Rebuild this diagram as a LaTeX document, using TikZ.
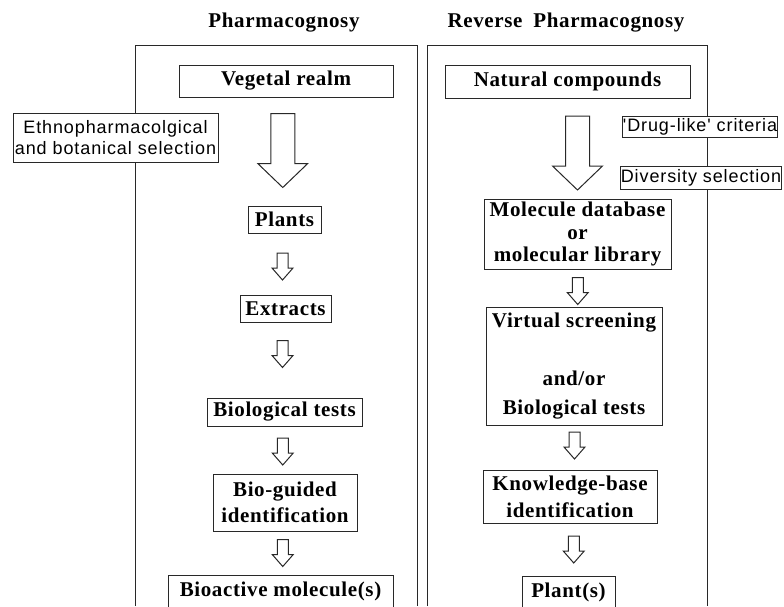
\documentclass[tikz,border=0pt]{standalone}
\usepackage{fontspec}
\usepackage{xcolor}
\usepackage{tikz}
\usetikzlibrary{positioning,calc}
\newfontfamily\boxfont{Liberation Serif}[LetterSpace=3]
\newfontfamily\notefont{Liberation Sans}[LetterSpace=5]
\definecolor{linegray}{RGB}{40,40,40}

\begin{document}
\begin{tikzpicture}[
    x=1pt, y=-1pt,
    panel/.style={draw=linegray, line width=1pt},
    stepbox/.style={draw=linegray, line width=1pt, fill=white, inner sep=0pt, align=center, font=\boxfont\bfseries\fontsize{21}{24}\selectfont},
    note/.style={draw=linegray, line width=1pt, fill=white, inner sep=0pt, align=center, font=\notefont\fontsize{18}{21}\selectfont},
    title/.style={font=\boxfont\bfseries\fontsize{21}{24}\selectfont},
    arrow shaft/.store in=\arrshaft, arrow head/.store in=\arrhead,
    arrow length/.store in=\arrlen, head length/.store in=\arrheadlen,
    arrow dx/.store in=\arrdx, arrow dy/.store in=\arrdy,
    arrow dx=0pt, arrow dy=0pt,
    bigarrow/.style={arrow shaft=24pt, arrow head=50pt, arrow length=74pt, head length=24pt},
    smallarrow/.style={arrow shaft=11pt, arrow head=21pt, arrow length=27pt, head length=12pt},
    hollow/.style={draw=linegray, line width=1pt, fill=white, line join=miter,
      to path={let \p1=($(\tikztostart)!.5!(\tikztotarget)$) in
        ({\x1+(\arrdx)-\arrshaft/2}, {\y1-(\arrdy)+\arrlen/2})
        -- ({\x1+(\arrdx)+\arrshaft/2}, {\y1-(\arrdy)+\arrlen/2})
        -- ({\x1+(\arrdx)+\arrshaft/2}, {\y1-(\arrdy)-\arrlen/2+\arrheadlen})
        -- ({\x1+(\arrdx)+\arrhead/2}, {\y1-(\arrdy)-\arrlen/2+\arrheadlen})
        -- ({\x1+(\arrdx)}, {\y1-(\arrdy)-\arrlen/2})
        -- ({\x1+(\arrdx)-\arrhead/2}, {\y1-(\arrdy)-\arrlen/2+\arrheadlen})
        -- ({\x1+(\arrdx)-\arrshaft/2}, {\y1-(\arrdy)-\arrlen/2+\arrheadlen})
        -- cycle}}
]
\path[fill=white] (0,0) rectangle (784,606);
\useasboundingbox (0,0) rectangle (784,606);

% Panels, open at the bottom
\draw[panel] (135,606) |- (417,45) -- (417,606);
\draw[panel] (427,606) |- (707,45) -- (707,606);

% Titles
\node[title] (ph) at (284,23) {Pharmacognosy};
\node[title] (rph) at (566,23) {Reverse\hspace{5pt} Pharmacognosy};

% Pharmacognosy column
\node[stepbox, minimum width=214pt, minimum height=32pt] (veg) at (286,81) {Vegetal realm};
\node[stepbox, minimum width=73pt, minimum height=27pt, below=108pt of veg, xshift=-1.5pt] (plants) {Plants};
\node[stepbox, minimum width=91pt, minimum height=27pt, below=61pt of plants, xshift=1pt] (ext) {Extracts};
\node[stepbox, minimum width=155pt, minimum height=28pt, below=75pt of ext, xshift=-1pt] (biot) {Biological tests};
\node[stepbox, minimum width=144pt, minimum height=57pt, below=47pt of biot, xshift=0.5pt,
      font=\boxfont\bfseries\fontsize{21}{26}\selectfont] (biog) {Bio-guided\\identification};
\node[stepbox, minimum width=225pt, minimum height=33pt, below=43pt of biog, xshift=-4.5pt] (bioa) {Bioactive molecule(s)};

% Reverse pharmacognosy column
\node[stepbox, minimum width=245pt, minimum height=33pt] (nat) at (567.5,81.5) {Natural compounds};
\node[stepbox, minimum width=187pt, minimum height=70pt, below=100pt of nat, xshift=10pt,
      font=\boxfont\bfseries\fontsize{21}{22.5}\selectfont] (mol) {Molecule database\\or\\molecular library};
\node[stepbox, minimum width=176pt, minimum height=118pt, below=37pt of mol, xshift=-3.5pt,
      font=\boxfont\bfseries\fontsize{21}{29}\selectfont] (virt) {Virtual screening\\[29pt]and/or\\Biological tests};
\node[stepbox, minimum width=174pt, minimum height=53pt, below=44pt of virt, xshift=-4pt,
      font=\boxfont\bfseries\fontsize{21}{27}\selectfont] (know) {Knowledge-base\\identification};
\node[stepbox, minimum width=93pt, minimum height=33pt, below=52pt of know, xshift=-1.5pt] (plant) {Plant(s)};

% Selection notes
\node[note, minimum width=205pt, minimum height=49pt] (ethno) at (115.5,137.5) {Ethnopharmacolgical\\and botanical selection};
\node[note, minimum width=150pt, minimum height=21pt] (drug) at (700,126.5) {'Drug-like' criteria};
\node[note, minimum width=158pt, minimum height=23pt] (div) at (701,177.5) {Diversity selection};

% Hollow arrows
\draw[hollow, bigarrow, arrow dx=-2.5pt, arrow dy=-1pt] (veg.south) to (plants.north);
\draw[hollow, smallarrow, arrow dx=-2.5pt, arrow dy=2.5pt] (plants.south) to (ext.north);
\draw[hollow, smallarrow, arrow dx=-2.5pt, arrow dy=-6pt] (ext.south) to (biot.north);
\draw[hollow, smallarrow, arrow dx=-2pt, arrow dy=1.5pt] (biot.south) to (biog.north);
\draw[hollow, smallarrow, arrow dx=0pt] (biog.south) to (bioa.north);

\draw[hollow, bigarrow, arrow dx=5pt, arrow dy=4.5pt] (nat.south) to (mol.north);
\draw[hollow, smallarrow, arrow dx=2pt, arrow dy=3pt] (mol.south) to (virt.north);
\draw[hollow, smallarrow, arrow dx=2.5pt, arrow dy=-2pt] (virt.south) to (know.north);
\draw[hollow, smallarrow, arrow dx=4.5pt] (know.south) to (plant.north);
\end{tikzpicture}
\end{document}
